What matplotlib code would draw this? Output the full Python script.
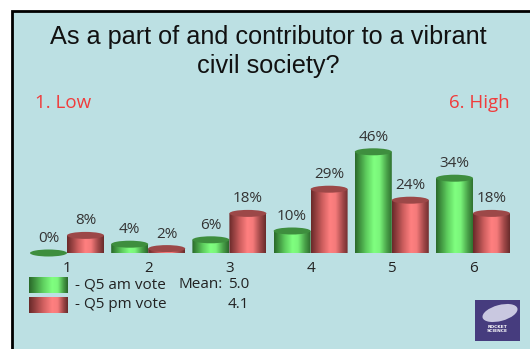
import matplotlib
matplotlib.use("Agg")
import matplotlib.pyplot as plt
import numpy as np
from matplotlib.patches import Rectangle, Ellipse
from matplotlib.path import Path
from matplotlib.colors import LinearSegmentedColormap

categories = ["1", "2", "3", "4", "5", "6"]
am_vote = [0, 4, 6, 10, 46, 34]
pm_vote = [8, 2, 18, 29, 24, 18]
series_labels = ["- Q5 am vote", "- Q5 pm vote"]
means = ["5.0", "4.1"]

title_lines = ["As a part of and contributor to a vibrant", "civil society?"]

W, H = 530, 349
fig = plt.figure(figsize=(W / 100, H / 100), dpi=100)
fig.patch.set_facecolor("white")

# panel with black left/top border
bg = "#bce0e3"
fig.patches.append(Rectangle((12 / W, -0.1), 1.2, (H - 11) / H + 0.1,
                             transform=fig.transFigure, facecolor=bg,
                             edgecolor="black", linewidth=2, zorder=-5))

for yy, line in zip([37, 66], title_lines):
    fig.text(268 / W, 1 - yy / H, line, ha="center", va="center", fontsize=18.2,
             family="Liberation Sans", color="#111111")
fig.text(35 / W, 1 - 103 / H, "1. Low", ha="left", va="center",
         fontsize=13.5, color="#f03c3c", family="Open Sans")
fig.text(510 / W, 1 - 103 / H, "6. High", ha="right", va="center",
         fontsize=13.5, color="#f03c3c", family="Open Sans")

# axes: x px 20..520, y px 120..253
ax = fig.add_axes([20 / W, 1 - 253 / H, 500 / W, 133 / H])
ax.set_facecolor("none")
for s in ax.spines.values():
    s.set_visible(False)

ppu = 81.2
xlim = (1 - 47 / ppu, 6 + 47 / ppu)
ylim = (0, 133 / 2.2)
bw = 37 / ppu
eh = 7 / 2.2

green_cm = LinearSegmentedColormap.from_list(
    "g", [(0, "#2a6a2a"), (0.3, "#5fcf5f"), (0.5, "#80ff80"),
          (0.65, "#7af57a"), (0.85, "#48a048"), (1, "#2c6a2c")])
red_cm = LinearSegmentedColormap.from_list(
    "r", [(0, "#6a2a2a"), (0.3, "#cf5f5f"), (0.5, "#ff8080"),
          (0.65, "#f57a7a"), (0.85, "#a04848"), (1, "#6a2c2c")])
grad = np.linspace(0, 1, 64).reshape(1, -1)


def cylinder(xc, h, cmap, topc):
    x0, x1 = xc - bw / 2, xc + bw / 2
    t = np.linspace(np.pi, 2 * np.pi, 40)
    bx = xc + bw / 2 * np.cos(t)
    by = eh / 2 * np.sin(t)
    verts = [(x0, h)] + list(zip(bx, by)) + [(x1, h), (x0, h)]
    if h > 0:
        im = ax.imshow(grad, cmap=cmap, aspect="auto",
                       extent=[x0, x1, -eh / 2, h], zorder=2)
        clip = plt.Polygon(verts, closed=True, transform=ax.transData)
        im.set_clip_path(clip)
    ax.add_patch(Ellipse((xc, h), bw, eh, facecolor=topc, edgecolor="none",
                         zorder=3, clip_on=False))


pos = np.arange(1, len(categories) + 1)
for i, xc in enumerate(pos):
    for vals, off, cm, topc in [(am_vote, -bw / 2, green_cm, "#3e8e3e"),
                                (pm_vote, bw / 2, red_cm, "#9c4848")]:
        v = vals[i]
        cylinder(xc + off, v, cm, topc)
        ax.text(xc + off, v + 6.6, f"{v}%", ha="center", va="center",
                fontsize=11, color="#333333", family="Open Sans")

ax.set_xlim(*xlim)
ax.set_ylim(*ylim)
ax.set_yticks([])
ax.set_xticks(pos, categories, fontsize=11, family="Open Sans",
              color="#222222")
ax.tick_params(axis="x", length=0, pad=6)

# legend
lg = fig.add_axes([0, 0, 1, 1])
lg.axis("off")
lgrad = np.concatenate([np.linspace(0.05, 0.55, 40), np.linspace(0.55, 0.95, 20)]).reshape(1, -1)
for k, (cm, lab, mn) in enumerate(zip([green_cm, red_cm], series_labels, means)):
    y0 = 277 + k * 20
    lg.imshow(lgrad, cmap=cm, aspect="auto", extent=[29, 68, y0 + 16, y0], zorder=2)
    lg.text(75, y0 + 8, lab, ha="left", va="center", fontsize=11,
            color="#222222", family="Open Sans")
    lg.text(249, y0 + 8, mn, ha="right", va="center", fontsize=11,
            color="#222222", family="Open Sans")
lg.text(178, 285, "Mean:", ha="left", va="center", fontsize=11,
        color="#222222", family="Open Sans")

# logo
lg.add_patch(Rectangle((475, 300), 45, 41, facecolor="#463c7e", edgecolor="none"))
lg.add_patch(Ellipse((500, 313), 36, 16, angle=-15, facecolor="#d8d8ec",
                     edgecolor="none", alpha=0.9))
lg.text(497, 329, "ROCKET\nSCIENCE", ha="center", va="center", fontsize=3.2,
        color="white", fontweight="bold", linespacing=1.2)
lg.set_xlim(0, W)
lg.set_ylim(H, 0)

fig.savefig("out.png", dpi=100)
